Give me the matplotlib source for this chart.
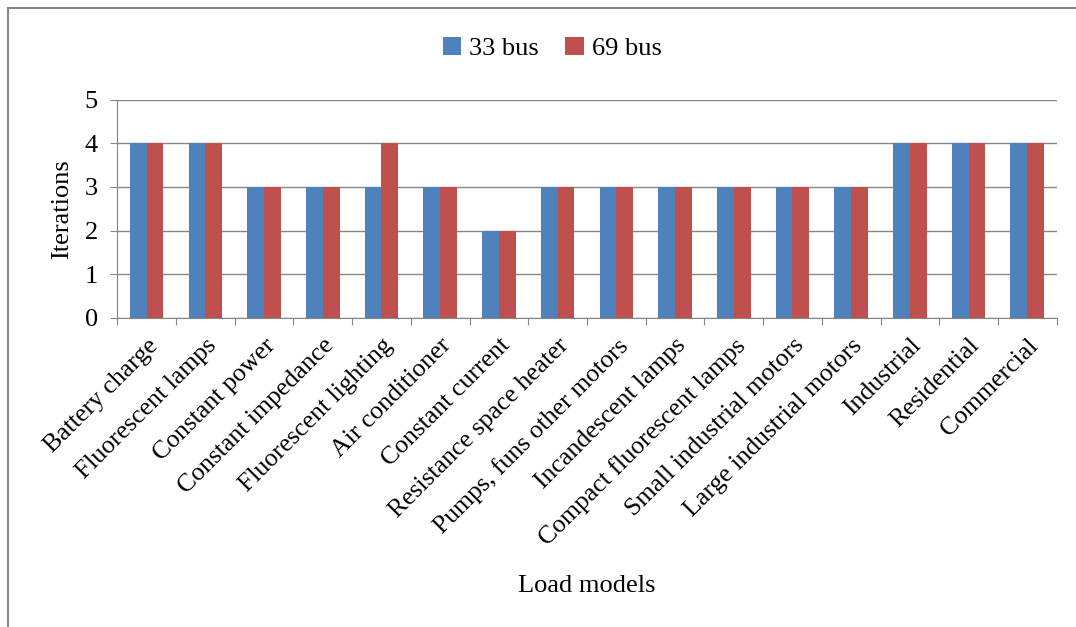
import numpy as np
import matplotlib.pyplot as plt
from matplotlib.patches import Rectangle

plt.rcParams['font.family'] = ['Liberation Serif', 'DejaVu Serif']

# load models and iteration counts
models = ['Battery charge', 'Fluorescent lamps', 'Constant power', 'Constant impedance',
          'Fluorescent lighting', 'Air conditioner', 'Constant current',
          'Resistance space heater', 'Pumps, funs other motors', 'Incandescent lamps',
          'Compact fluorescent lamps', 'Small industrial motors', 'Large industrial motors',
          'Industrial', 'Residential', 'Commercial']
bus33 = [4, 4, 3, 3, 3, 3, 2, 3, 3, 3, 3, 3, 3, 4, 4, 4]
bus69 = [4, 4, 3, 3, 4, 3, 2, 3, 3, 3, 3, 3, 3, 4, 4, 4]

fig = plt.figure(figsize=(10.76, 6.27), dpi=100)
ax = fig.add_axes([0.109, 0.493, 0.873, 0.348])

x = np.arange(len(models))
w = 0.286
ax.bar(x - w / 2, bus33, w, color='#4F81BD', label='33 bus')
ax.bar(x + w / 2, bus69, w, color='#C0504D', label='69 bus')

ax.set_xlim(-0.5, len(models) - 0.5)
ax.set_ylim(0, 5)
ax.set_yticks(range(6))
ax.yaxis.grid(True, color='#868686', linewidth=1)
ax.set_axisbelow(True)
for s in ['top', 'right']:
    ax.spines[s].set_visible(False)
for s in ['left', 'bottom']:
    ax.spines[s].set_color('#868686')

# category boundary ticks
ax.set_xticks(np.arange(len(models) + 1) - 0.5)
ax.set_xticklabels([])
ax.set_xticks(x, minor=True)
ax.set_xticklabels(models, minor=True, rotation=45, ha='right', rotation_mode='anchor', fontsize=18.5)
ax.tick_params(axis='x', which='major', length=5, color='#868686', direction='out')
ax.tick_params(axis='x', which='minor', length=0, pad=12)
ax.tick_params(axis='y', length=5, color='#868686', labelsize=19, pad=9)

ax.set_ylabel('Iterations', fontsize=19, labelpad=8)
fig.text(0.545, 0.056, 'Load models', fontsize=19, ha='center')

fig.legend(loc='center', bbox_to_anchor=(0.513, 0.923), ncol=2, frameon=False,
           fontsize=19, handlelength=0.7, handleheight=0.7, handletextpad=0.3, columnspacing=1.0)

# chart area border (only top and left edges visible)
fig.patches.append(Rectangle((0.0074, -0.1), 1.2, 1.087, transform=fig.transFigure,
                             fill=False, edgecolor='#868686', linewidth=1.5))

fig.savefig('out.png', dpi=100)
